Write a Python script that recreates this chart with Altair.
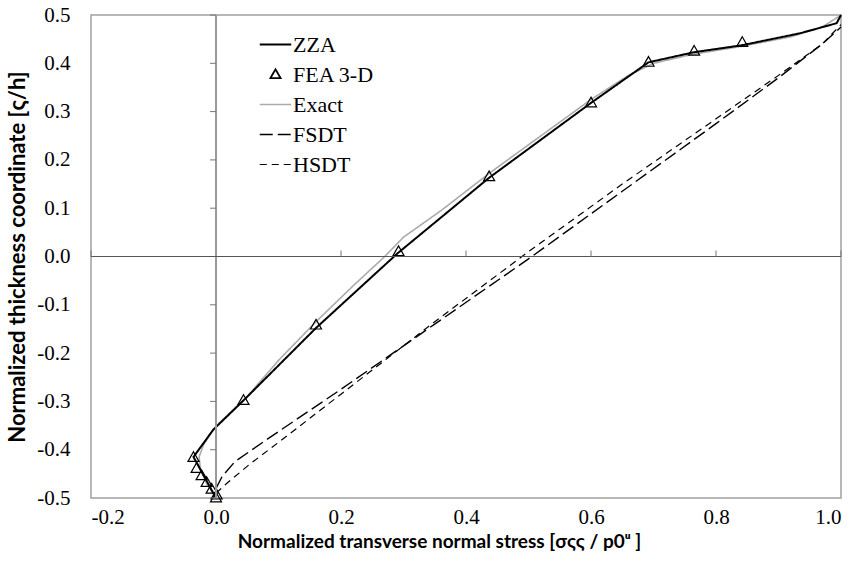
import altair as alt
import pandas as pd

# ---- data ----
zza_x = [0.0, -0.036, -0.004, 0.044, 0.16, 0.29, 0.437, 0.6, 0.692, 0.765, 0.84, 0.934, 0.993, 1.0]
zza_y = [-0.5, -0.415, -0.358, -0.298, -0.148, 0.006, 0.163, 0.318, 0.402, 0.423, 0.437, 0.462, 0.483, 0.5]

fea_x = [0.0, 0.001, -0.007, -0.015, -0.023, -0.031, -0.036, 0.044, 0.16, 0.292, 0.437, 0.6, 0.692, 0.765, 0.842]
fea_y = [-0.5, -0.494, -0.482, -0.468, -0.454, -0.439, -0.416, -0.298, -0.142, 0.01, 0.165, 0.318, 0.402, 0.425, 0.443]

exact_x = [0.0, -0.015, -0.025, -0.027, -0.02, -0.008, 0.005, 0.05, 0.1, 0.16, 0.22, 0.27, 0.3,
           0.36, 0.44, 0.52, 0.6, 0.66, 0.7, 0.76, 0.84, 0.92, 0.97, 1.0]
exact_y = [-0.5, -0.47, -0.44, -0.415, -0.39, -0.365, -0.345, -0.29, -0.215, -0.135, -0.06, 0.0, 0.04,
           0.095, 0.175, 0.25, 0.325, 0.375, 0.4, 0.418, 0.435, 0.455, 0.475, 0.5]

fsdt_x = [0.0, 0.01, 0.03, 0.08, 0.2, 0.35, 0.5, 0.65, 0.8, 0.9, 0.97, 1.0]
fsdt_y = [-0.48, -0.455, -0.425, -0.38, -0.275, -0.14, -0.005, 0.135, 0.275, 0.37, 0.44, 0.475]

hsdt_x = [0.0, 0.017, 0.054, 0.1, 0.2, 0.35, 0.5, 0.65, 0.8, 0.9, 0.97, 1.0]
hsdt_y = [-0.49, -0.47, -0.43, -0.385, -0.285, -0.135, 0.01, 0.15, 0.285, 0.375, 0.44, 0.48]

x_ticks = [-0.2, 0.0, 0.2, 0.4, 0.6, 0.8, 1.0]
y_ticks = [-0.5, -0.4, -0.3, -0.2, -0.1, 0.0, 0.1, 0.2, 0.3, 0.4, 0.5]

series = ["ZZA", "FEA 3-D", "Exact", "FSDT", "HSDT"]
series_colors = ["#000000", "#000000", "#ababab", "#000000", "#000000"]
series_dash = [[1, 0], [1, 0], [1, 0], [13, 5], [7, 5]]
series_width = [2, 1.2, 2.8, 2, 2]
LINE = "M-1.5,0H1.5"
TRI = "M0,-0.5L0.48,0.34L-0.48,0.34Z"
series_shape = [LINE, TRI, LINE, LINE, LINE]

rows = []
for name, xs, ys in [("Exact", exact_x, exact_y), ("ZZA", zza_x, zza_y), ("FEA 3-D", fea_x, fea_y),
                     ("FSDT", fsdt_x, fsdt_y), ("HSDT", hsdt_x, hsdt_y)]:
    for i, (a, b) in enumerate(zip(xs, ys)):
        rows.append({"series": name, "x": a, "y": b, "i": i})
df = pd.DataFrame(rows)

xticks_df = pd.DataFrame({"t": [v for v in x_ticks if v != 0.0]})
yticks_df = pd.DataFrame({"t": [v for v in y_ticks if v != 0.0]})

xscale = alt.Scale(domain=[-0.2, 1.0], nice=False, zero=False)
yscale = alt.Scale(domain=[-0.5, 0.5], nice=False, zero=False)

lab = "(datum.value < 0 ? '-' : '') + format(abs(datum.value), '.1f')"
xaxis = alt.Axis(values=x_ticks, labelExpr=lab, titleX=348,
                 title="Normalized transverse normal stress  [σςς / p0ᵘ ]")
yaxis = alt.Axis(values=y_ticks, labelExpr=lab,
                 title="Normalized thickness coordinate [ς/h]")

legend = alt.Legend(title=None, orient="none", legendX=173, legendY=18,
                    labelFont="Liberation Serif", labelFontSize=22, labelColor="#000000",
                    symbolSize=441, symbolStrokeWidth=2, rowPadding=7, labelOffset=6,
                    symbolFillColor="transparent")

color = alt.Color("series:N", scale=alt.Scale(domain=series, range=series_colors), legend=legend)
dash = alt.StrokeDash("series:N", scale=alt.Scale(domain=series, range=series_dash), legend=legend)
shape = alt.Shape("series:N", scale=alt.Scale(domain=series, range=series_shape), legend=legend)
width = alt.StrokeWidth("series:N", scale=alt.Scale(domain=series, range=series_width), legend=None)

base = alt.Chart(df)

lines = base.transform_filter(alt.datum.series != "FEA 3-D").mark_line().encode(
    x=alt.X("x:Q", scale=xscale, axis=xaxis),
    y=alt.Y("y:Q", scale=yscale, axis=yaxis),
    color=color, strokeDash=dash, strokeWidth=width,
    order=alt.Order("i:Q"),
)

points = base.transform_filter(alt.datum.series == "FEA 3-D").mark_point(
    filled=False, size=529, strokeWidth=1.2, opacity=1
).encode(
    x=alt.X("x:Q", scale=xscale, axis=xaxis),
    y=alt.Y("y:Q", scale=yscale, axis=yaxis),
    color=color, shape=shape,
)

vzero = alt.Chart(df).mark_rule(color="#9a9a9a", strokeWidth=1.5).encode(x=alt.datum(0))
hzero = alt.Chart(df).mark_rule(color="#555555", strokeWidth=1).encode(y=alt.datum(0))

ytick_marks = alt.Chart(yticks_df).mark_rule(color="#777777", strokeWidth=1, x2Offset=-6).encode(
    y=alt.Y("t:Q", scale=yscale, axis=yaxis), x=alt.datum(0), x2=alt.datum(0))
xtick_marks = alt.Chart(xticks_df).mark_rule(color="#777777", strokeWidth=1, y2Offset=-6).encode(
    x=alt.X("t:Q", scale=xscale, axis=xaxis), y=alt.datum(0), y2=alt.datum(0))

chart = alt.layer(lines, points, vzero, hzero, ytick_marks, xtick_marks).properties(
    width=750, height=483,
    autosize=alt.AutoSizeParams(type="none"),
    padding={"left": 91, "top": 15, "right": 20, "bottom": 70},
    background="#ffffff",
).configure_view(
    stroke="#a0a0a0", strokeWidth=1.5
).configure_axis(
    ticks=False, domain=False, grid=False,
    labelFont="Liberation Serif", labelFontSize=21, labelColor="#000000",
    titleFont="Lato", titleFontWeight="bold", titleColor="#000000",
).configure_axisX(
    labelPadding=8, titlePadding=5, titleFontSize=19,
).configure_axisY(
    labelPadding=21, titlePadding=7, titleFontSize=22,
)

chart.save("out.html", embed_options={"renderer": "svg", "actions": False})
